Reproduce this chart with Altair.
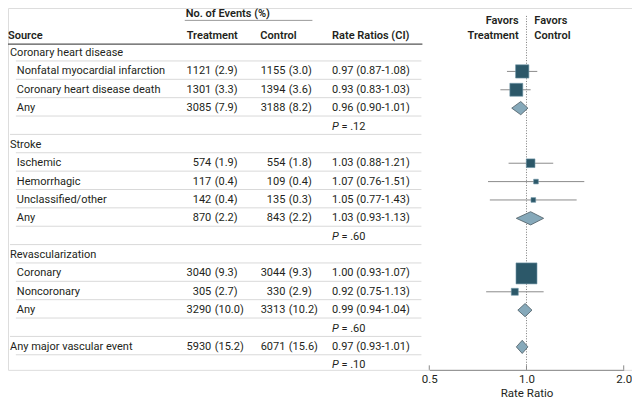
import altair as alt
import pandas as pd

# ---------------- data ----------------
kinds = ["group", "item", "item", "item", "p",
         "group", "item", "item", "item", "item", "p",
         "group", "item", "item", "item", "p",
         "group", "p"]
labels = ["Coronary heart disease", "Nonfatal myocardial infarction", "Coronary heart disease death", "Any", "",
          "Stroke", "Ischemic", "Hemorrhagic", "Unclassified/other", "Any", "",
          "Revascularization", "Coronary", "Noncoronary", "Any", "",
          "Any major vascular event", ""]
treat_n = [None, 1121, 1301, 3085, None, None, 574, 117, 142, 870, None, None, 3040, 305, 3290, None, 5930, None]
treat_pct = [None, 2.9, 3.3, 7.9, None, None, 1.9, 0.4, 0.4, 2.2, None, None, 9.3, 2.7, 10.0, None, 15.2, None]
ctrl_n = [None, 1155, 1394, 3188, None, None, 554, 109, 135, 843, None, None, 3044, 330, 3313, None, 6071, None]
ctrl_pct = [None, 3.0, 3.6, 8.2, None, None, 1.8, 0.4, 0.3, 2.2, None, None, 9.3, 2.9, 10.2, None, 15.6, None]
rate = [None, 0.97, 0.93, 0.96, None, None, 1.03, 1.07, 1.05, 1.03, None, None, 1.00, 0.92, 0.99, None, 0.97, None]
ci_lo = [None, 0.87, 0.83, 0.90, None, None, 0.88, 0.76, 0.77, 0.93, None, None, 0.93, 0.75, 0.94, None, 0.93, None]
ci_hi = [None, 1.08, 1.03, 1.01, None, None, 1.21, 1.51, 1.43, 1.13, None, None, 1.07, 1.13, 1.04, None, 1.01, None]
pooled = [False, False, False, True, False, False, False, False, False, True, False,
          False, False, False, True, False, True, False]
weight = [None, 40, 38, None, None, None, 17, 5, 5, None, None, None, 100, 11, None, None, None, None]
p_values = [None, None, None, None, ".12", None, None, None, None, None, ".60",
            None, None, None, None, ".60", None, ".10"]
tick_values = [0.5, 1.0, 2.0]

# ---------------- layout helpers ----------------
KX, KY = 0.982, 0.99
def X(v):
    return (v - 3) * KX
def Y(v):
    return (v - 4) * KY

ROW0, ROWH = 49.5, 18.55
H = Y(369.5)
W = 624
TOTAL_H = 394
FS = 11
HFS = 11
TXT = "#231f20"
FONT = "Roboto"

def fmt_n(v):
    return "" if v is None else f"{int(v)}"
def fmt_p(v):
    return "" if v is None else f"({v:.1f})"

df = pd.DataFrame({
    "row": list(range(len(labels))),
    "label": labels,
    "kind": kinds,
    "tn": [fmt_n(v) for v in treat_n],
    "tp": [fmt_p(v) for v in treat_pct],
    "cn": [fmt_n(v) for v in ctrl_n],
    "cp": [fmt_p(v) for v in ctrl_pct],
    "rr": ["" if r is None else f"{r:.2f} ({l:.2f}-{h:.2f})" for r, l, h in zip(rate, ci_lo, ci_hi)],
    "rate": rate,
    "lo": ci_lo,
    "hi": ci_hi,
    "pooled": pooled,
    "weight": weight,
    "p": ["" if p is None else p for p in p_values],
    "pv": ["" if p is None else "= " + p for p in p_values],
})

dia_rows = []
for i, (r, l, h, pl) in enumerate(zip(rate, ci_lo, ci_hi, pooled)):
    if pl:
        dia_rows += [
            {"row": i, "x": l, "y1": i, "y2": i},
            {"row": i, "x": r, "y1": i - 0.36, "y2": i + 0.36},
            {"row": i, "x": h, "y1": i, "y2": i},
        ]
dia_df = pd.DataFrame(dia_rows)

yscale = alt.Scale(domain=[0, 17], range=[Y(ROW0), Y(ROW0 + ROWH * 17)], nice=False, zero=False)
xscale = alt.Scale(type="log", domain=[0.5, 2.0], range=[X(432), X(630)], nice=False)
xaxis = alt.Axis(values=tick_values, format=".1f", ticks=False, tickSize=0, grid=False,
                 domainColor="#8a8a8a", labelFontSize=11.5, labelColor=TXT, labelPadding=4,
                 labelFlush=False, titleFontSize=11.5, titleColor=TXT, titleFontWeight="normal",
                 titlePadding=2.5, labelFont=FONT, titleFont=FONT)

def xenc(field):
    return alt.X(f"{field}:Q", scale=xscale, axis=xaxis, title="Rate Ratio")

def yenc(field="row"):
    return alt.Y(f"{field}:Q", scale=yscale, axis=None)

base = alt.Chart(df)

def col_text(filt, field, xpos, align, **kw):
    return base.transform_filter(filt).mark_text(
        align=align, baseline="middle", fontSize=FS, color=TXT, font=FONT, **kw
    ).encode(x=alt.value(xpos), y=yenc(), text=f"{field}:N")

layers = []

# separators
sep = base.transform_filter("datum.row < 17").transform_calculate(ys="datum.row + 0.43")
layers.append(sep.transform_filter("datum.kind == 'p'").mark_rule(color="#d9d9d9", strokeWidth=1).encode(
    x=alt.value(X(5)), x2=alt.value(X(424)), y=yenc("ys")))
layers.append(sep.transform_filter("datum.kind != 'p'").mark_rule(color="#d9d9d9", strokeWidth=1).encode(
    x=alt.value(X(11)), x2=alt.value(X(424)), y=yenc("ys")))

# table text
layers.append(col_text("datum.kind == 'group'", "label", X(5), "left"))
layers.append(col_text("datum.kind == 'item'", "label", X(12), "left"))
layers.append(col_text("datum.tn != ''", "tn", X(210), "right"))
layers.append(col_text("datum.tp != ''", "tp", X(213.5), "left"))
layers.append(col_text("datum.cn != ''", "cn", X(285.5), "right"))
layers.append(col_text("datum.cp != ''", "cp", X(289), "left"))
layers.append(col_text("datum.rr != ''", "rr", X(333), "left"))
layers.append(base.transform_filter("datum.p != ''").mark_text(
    align="left", baseline="middle", fontSize=FS, color=TXT, font=FONT, fontStyle="italic"
).encode(x=alt.value(X(333)), y=yenc(), text=alt.value("P")))
layers.append(col_text("datum.p != ''", "pv", X(342.5), "left"))

# headers
one = pd.DataFrame({"a": [0]})
def htext(t, xpos, ypos, align="left", weight=600):
    return alt.Chart(one).mark_text(
        align=align, baseline="middle", fontSize=HFS, color=TXT, font=FONT, fontWeight=weight
    ).encode(x=alt.value(xpos), y=alt.value(ypos), text=alt.value(t))

layers.append(htext("No. of Events (%)", X(184), Y(10)))
layers.append(alt.Chart(one).mark_rule(color="#9a9a9a", strokeWidth=1).encode(
    x=alt.value(X(183)), x2=alt.value(X(313)), y=alt.value(Y(16.5))))
layers.append(htext("Source", X(3), Y(32)))
layers.append(htext("Treatment", X(185), Y(32)))
layers.append(htext("Control", X(260), Y(32)))
layers.append(htext("Rate Ratios (CI)", X(333), Y(32)))
layers.append(alt.Chart(one).mark_rule(color="#555555", strokeWidth=1.4).encode(
    x=alt.value(X(3)), x2=alt.value(X(425)), y=alt.value(Y(40.5))))
layers.append(htext("Favors", X(523), Y(17), align="right"))
layers.append(htext("Treatment", X(523), Y(32), align="right"))
layers.append(htext("Favors", X(539), Y(17)))
layers.append(htext("Control", X(539), Y(32)))

# forest plot
layers.append(alt.Chart(pd.DataFrame({"v": [1.0]})).mark_rule(
    color="#7a7a7a", strokeWidth=1, strokeDash=[1, 1.6]).encode(
    x=xenc("v"), y=alt.value(Y(12)), y2=alt.value(H)))
layers.append(alt.Chart(pd.DataFrame({"v": tick_values})).mark_rule(color="#8a8a8a", strokeWidth=1).encode(
    x=xenc("v"), y=alt.value(H - 4.5), y2=alt.value(H)))
layers.append(base.transform_filter("!datum.pooled && isValid(datum.rate)").mark_rule(
    color="#8c8c8c", strokeWidth=1).encode(x=xenc("lo"), x2="hi:Q", y=yenc()))
layers.append(base.transform_filter("!datum.pooled && isValid(datum.rate)").mark_square(
    filled=True, color="#2c5869", stroke="#6f96a6", strokeWidth=0.6, opacity=1).encode(
    x=xenc("rate"), y=yenc(),
    size=alt.Size("weight:Q", scale=alt.Scale(domain=[0, 100], range=[0, 441]), legend=None)))
layers.append(alt.Chart(dia_df).mark_area(
    fill="#86a9ba", stroke="#4d5c63", strokeWidth=0.8, opacity=1, fillOpacity=1).encode(
    x=xenc("x"), y=yenc("y1"), y2="y2:Q", detail="row:N"))

chart = alt.layer(*layers).properties(
    width=W, height=H,
    padding={"left": 0, "top": 0, "right": 0, "bottom": TOTAL_H - H},
    autosize=alt.AutoSizeParams(type="none"),
).configure_view(stroke=None).configure(font=FONT)

chart.save("out.html", embed_options={"renderer": "svg", "actions": False})
